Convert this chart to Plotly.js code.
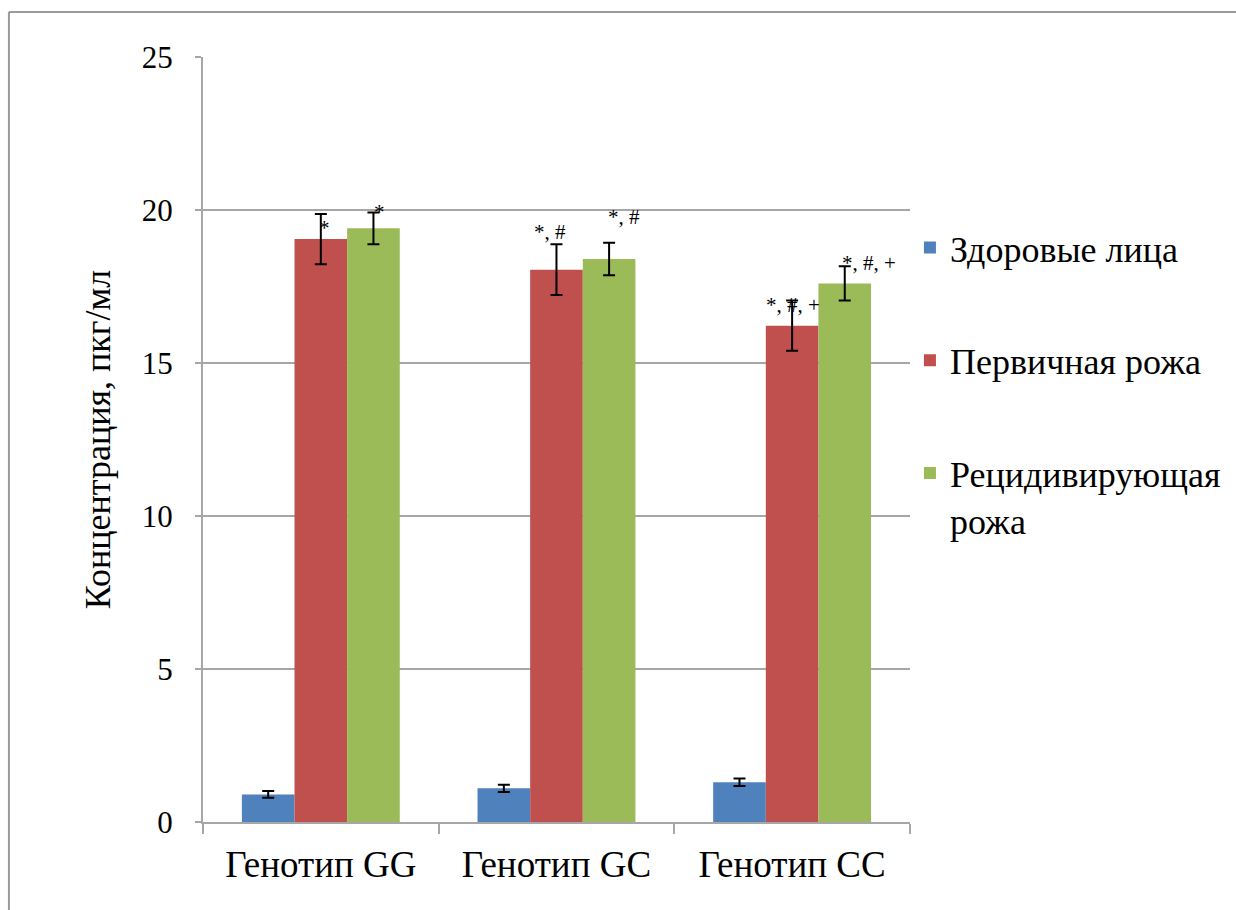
<!DOCTYPE html>
<html>
<head>
<meta charset="utf-8">
<script src="https://cdn.plot.ly/plotly-3.0.1.min.js"></script>
<style>
  html, body { margin: 0; padding: 0; background: #ffffff; }
  #chart { width: 1236px; height: 910px; }
</style>
</head>
<body>
<div id="chart"></div>
<script>
// ---- data ----
const categories = ["Генотип GG", "Генотип GC", "Генотип CC"];
const seriesNames = ["Здоровые лица", "Первичная рожа", "Рецидивирующая<br>рожа"];
const healthy = [0.9, 1.1, 1.3];
const healthyErr = [0.11, 0.12, 0.12];
const primary = [19.05, 18.05, 16.22];
const primaryErr = [0.82, 0.83, 0.82];
const recurrent = [19.4, 18.4, 17.6];
const recurrentErr = [0.52, 0.53, 0.56];
const primaryMarks = ["*", "*, #", "*, #, +"];
const recurrentMarks = ["*", "*, #", "*, #, +"];
const yTicks = [0, 5, 10, 15, 20, 25];

// ---- styles ----
const colors = ["#4F81BD", "#C0504D", "#9BBB59"];
const serif = "Liberation Serif";
const gray = "#a6a6a6";

function barTrace(name, y, err, color) {
  return {
    type: "bar",
    name: name,
    x: categories,
    y: y,
    legendgroup: name,
    marker: { color: color, line: { width: 0 } },
    error_y: { type: "data", array: err, visible: true, color: "#000000", thickness: 2, width: 6 }
  };
}

const traces = [
  barTrace(seriesNames[0], healthy, healthyErr, colors[0]),
  barTrace(seriesNames[1], primary, primaryErr, colors[1]),
  barTrace(seriesNames[2], recurrent, recurrentErr, colors[2])
];

// annotation placement offsets (pixels) relative to the top of each error bar
const primaryShift = [[4, -14], [-6, 12], [1, -4]];
const recurrentShift = [[6, 0], [15, 26], [24, 3]];
const barOffset = 53;

const annotations = [];
categories.forEach((c, i) => {
  annotations.push({
    x: c, y: primary[i] + primaryErr[i], xref: "x", yref: "y",
    text: primaryMarks[i], showarrow: false,
    xshift: primaryShift[i][0], yshift: primaryShift[i][1],
    font: { family: serif, size: 21, color: "#000" }
  });
  annotations.push({
    x: c, y: recurrent[i] + recurrentErr[i], xref: "x", yref: "y",
    text: recurrentMarks[i], showarrow: false,
    xshift: barOffset + recurrentShift[i][0], yshift: recurrentShift[i][1],
    font: { family: serif, size: 21, color: "#000" }
  });
});

const layout = {
  width: 1236,
  height: 910,
  margin: { l: 203, r: 319, t: 57, b: 88, pad: 0 },
  paper_bgcolor: "#ffffff",
  plot_bgcolor: "#ffffff",
  font: { family: serif, color: "#000" },
  barmode: "group",
  bargap: 0.33,
  bargroupgap: 0,
  showlegend: true,
  legend: {
    xref: "container", yref: "container",
    x: 0.7362, xanchor: "left",
    y: 0.7609, yanchor: "top",
    font: { family: serif, size: 36, color: "#000" },
    tracegroupgap: 63,
    valign: "top",
    bgcolor: "rgba(0,0,0,0)"
  },
  xaxis: {
    type: "category",
    showgrid: false,
    showline: true,
    linecolor: gray,
    linewidth: 2,
    ticks: "outside",
    tickson: "boundaries",
    ticklen: 10,
    tickwidth: 2,
    tickcolor: gray,
    ticklabelstandoff: 9,
    tickfont: { family: serif, size: 37, color: "#000" },
    zeroline: false
  },
  yaxis: {
    range: [0, 25],
    tickvals: yTicks,
    ticktext: yTicks.map(String),
    showgrid: true,
    gridcolor: gray,
    gridwidth: 2,
    showline: true,
    linecolor: gray,
    linewidth: 2,
    ticks: "outside",
    ticklen: 6,
    tickwidth: 2,
    tickcolor: gray,
    ticklabelstandoff: 16,
    zeroline: false,
    tickfont: { family: serif, size: 31, color: "#000" },
    title: {
      text: "Концентрация, пкг/мл",
      font: { family: serif, size: 36, color: "#000" },
      standoff: 20
    }
  },
  annotations: annotations,
  shapes: [
    { type: "line", xref: "paper", yref: "paper",
      x0: (7 - 203) / 714, x1: (7 - 203) / 714, y0: (822 - 12) / 765, y1: -0.2,
      line: { color: "#9a9a9a", width: 2 } },
    { type: "line", xref: "paper", yref: "paper",
      x0: (7 - 203) / 714, x1: 1.5, y0: (822 - 12) / 765, y1: (822 - 12) / 765,
      line: { color: "#9a9a9a", width: 2 } }
  ]
};

Plotly.newPlot("chart", traces, layout, { displayModeBar: false, staticPlot: true });
</script>
</body>
</html>
